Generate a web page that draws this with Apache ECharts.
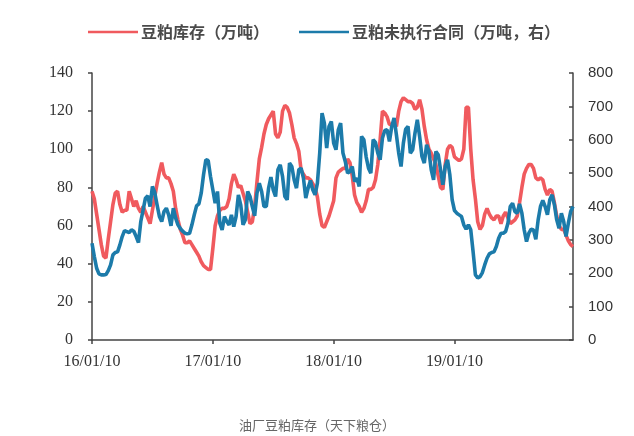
<!DOCTYPE html>
<html>
<head>
<meta charset="utf-8">
<script src="https://cdn.jsdelivr.net/npm/echarts@6/dist/echarts.min.js"></script>
<style>
html,body{margin:0;padding:0;background:#fff;}
#c{width:634px;height:436px;}
</style>
</head>
<body>
<div id="c"></div>
<script>
// Series names and labels
var seriesNames = ['豆粕库存（万吨）', '豆粕未执行合同（万吨，右）'];
var chartTitle = '油厂豆粕库存（天下粮仓）';
var yearTickLabels = ['16/01/10', '17/01/10', '18/01/10', '19/01/10'];
var yearTickIndex = [0, 52, 104, 156];

// Weekly categories starting 2016-01-10 (208 weeks)
var startDate = new Date(Date.UTC(2016, 0, 10));
var weekCount = 208;
var categories = [];
for (var k = 0; k < weekCount; k++) {
  var d = new Date(startDate.getTime() + k * 7 * 86400000);
  var yy = String(d.getUTCFullYear()).slice(2);
  var mm = ('0' + (d.getUTCMonth() + 1)).slice(-2);
  var dd = ('0' + d.getUTCDate()).slice(-2);
  categories.push(yy + '/' + mm + '/' + dd);
}

// 豆粕库存 (万吨), left axis
var inventory = [
  78,74,66,58,50,44,43,53,62,71,
  77,78,71,67,68,68,78,74,70,73,
  69,67,70,67,64,61,68,75,82,88,
  93,87,85,85,82,78,69,63,58,55,
  51,51,52,50,48,46,44,41,39,38,
  37,37,48,60,65,68,69,69,70,74,
  82,87,84,80,81,77,73,67,61,62,
  70,83,95,101,108,113,116,118,120,108,
  106,109,120,123,122,119,113,106,103,99,
  89,87,85,85,84,82,80,75,66,60,
  59,62,65,69,73,85,88,89,90,90,
  95,93,86,76,72,70,67,69,73,79,
  79,80,84,92,105,120,119,117,113,113,
  114,112,120,125,127,126,125,125,124,121,
  122,126,121,112,105,100,98,95,92,86,
  80,79,92,100,102,101,96,95,94,95,
  100,122,122,100,84,74,62,58,60,66,
  69,66,64,63,65,65,61,65,67,64,
  61,62,63,65,72,80,87,90,92,92,
  90,85,84,85,84,79,76,79,78,72,
  65,60,58,58,55,52,50,49
];

// 豆粕未执行合同 (万吨), right axis
var contracts = [
  290,250,215,198,195,195,196,208,225,255,
  262,264,285,310,328,325,322,330,326,310,
  292,355,390,425,432,400,460,442,405,370,
  355,385,395,375,342,395,365,345,334,326,
  320,318,320,345,375,402,408,440,495,540,
  538,490,450,410,445,350,330,370,355,345,
  375,340,370,435,405,345,360,445,430,400,
  372,440,470,445,400,400,455,488,450,430,
  510,525,490,430,420,530,520,480,455,510,
  515,485,425,455,478,450,435,470,560,680,
  650,575,640,655,590,570,630,650,560,535,
  500,505,520,475,485,460,610,600,548,515,
  500,600,592,560,540,605,628,630,595,640,
  665,615,560,520,590,632,640,560,570,620,
  660,610,550,530,585,565,510,480,565,555,
  510,465,520,540,495,420,388,380,375,370,
  345,332,345,330,265,195,186,190,202,225,
  245,258,262,264,280,305,320,320,325,350,
  400,410,385,380,408,380,330,295,320,332,
  330,302,360,400,418,400,375,420,435,405,
  360,335,380,355,310,350,385,400
];

var axisColor = '#444';
var labelColor = '#333';

function isYearTick(index) {
  return yearTickIndex.indexOf(index) >= 0;
}

var chart = echarts.init(document.getElementById('c'), null, {renderer: 'canvas'});
chart.setOption({
  animation: false,
  backgroundColor: '#fff',
  title: {
    text: chartTitle,
    left: 'center',
    top: 414,
    textStyle: {
      fontFamily: 'Noto Sans CJK SC',
      fontSize: 13,
      fontWeight: 'normal',
      color: '#666'
    }
  },
  legend: {
    left: 83,
    top: 19,
    itemWidth: 50,
    itemHeight: 14,
    itemGap: 30,
    icon: 'path://M0,6 L50,6 L50,8.5 L0,8.5 Z',
    textStyle: {
      fontFamily: 'Noto Sans CJK SC',
      fontSize: 16,
      fontWeight: 'bold',
      color: '#4a4a4a',
      padding: [0, 0, 0, -2]
    },
    data: seriesNames
  },
  grid: {
    left: 92,
    right: 61,
    top: 73,
    bottom: 96,
    containLabel: false
  },
  xAxis: {
    type: 'category',
    data: categories,
    boundaryGap: false,
    axisLine: {lineStyle: {color: axisColor, width: 1.5}},
    axisTick: {
      show: true,
      interval: function (index) { return isYearTick(index); },
      length: 4,
      lineStyle: {color: axisColor, width: 1.5}
    },
    axisLabel: {
      interval: function (index) { return isYearTick(index); },
      formatter: function (value, index) {
        var p = yearTickIndex.indexOf(index);
        return p >= 0 ? yearTickLabels[p] : '';
      },
      margin: 14,
      fontFamily: 'Liberation Serif',
      fontSize: 16,
      color: labelColor
    },
    splitLine: {show: false}
  },
  yAxis: [
    {
      type: 'value',
      min: 0,
      max: 140,
      interval: 20,
      position: 'left',
      axisLine: {show: true, lineStyle: {color: axisColor, width: 1.5}},
      axisTick: {show: true, length: 4, lineStyle: {color: axisColor, width: 1.5}},
      axisLabel: {
        margin: 19,
        fontFamily: 'Liberation Serif',
        fontSize: 16,
        color: labelColor
      },
      splitLine: {show: false}
    },
    {
      type: 'value',
      min: 0,
      max: 800,
      interval: 100,
      position: 'right',
      axisLine: {show: true, lineStyle: {color: axisColor, width: 1.5}},
      axisTick: {show: true, inside: true, length: 4, lineStyle: {color: axisColor, width: 1.5}},
      axisLabel: {
        margin: 15,
        fontFamily: 'Liberation Sans',
        fontSize: 15,
        color: labelColor
      },
      splitLine: {show: false}
    }
  ],
  series: [
    {
      name: seriesNames[0],
      type: 'line',
      yAxisIndex: 0,
      data: inventory,
      showSymbol: false,
      symbol: 'none',
      lineStyle: {color: '#F05A5E', width: 3.6},
      itemStyle: {color: '#F05A5E'},
      z: 2
    },
    {
      name: seriesNames[1],
      type: 'line',
      yAxisIndex: 1,
      data: contracts,
      showSymbol: false,
      symbol: 'none',
      lineStyle: {color: '#1C7BAA', width: 3.6},
      itemStyle: {color: '#1C7BAA'},
      z: 3
    }
  ]
});
</script>
</body>
</html>
